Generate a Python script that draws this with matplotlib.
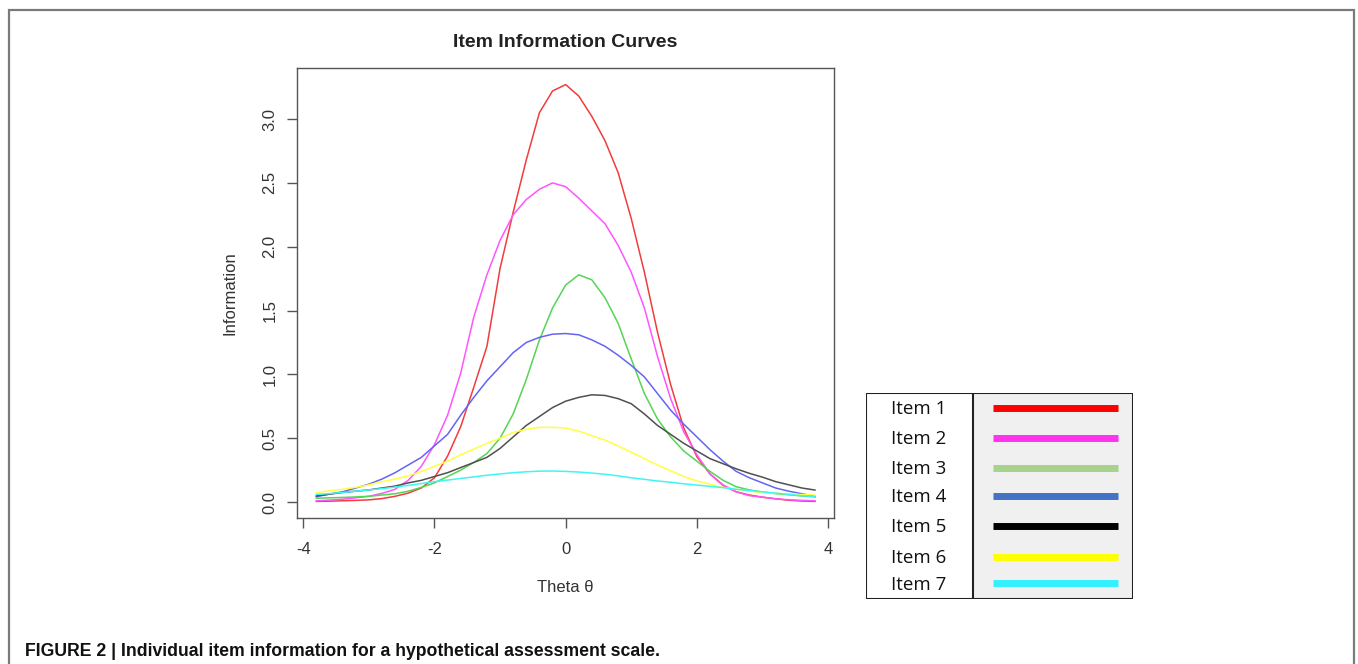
import numpy as np
import matplotlib
matplotlib.use("Agg")
import matplotlib.pyplot as plt
from matplotlib.patches import Rectangle

# ---------------- data ----------------
theta = [round(-3.8 + 0.2 * i, 1) for i in range(39)]

item1 = [0.005, 0.007, 0.010, 0.013, 0.017, 0.027, 0.045, 0.070, 0.110, 0.190,
         0.360, 0.590, 0.900, 1.220, 1.830, 2.270, 2.680, 3.050, 3.220, 3.270,
         3.180, 3.020, 2.830, 2.580, 2.220, 1.800, 1.330, 0.920, 0.580, 0.355,
         0.220, 0.130, 0.080, 0.055, 0.038, 0.025, 0.014, 0.008, 0.005]
item2 = [0.010, 0.015, 0.022, 0.033, 0.045, 0.068, 0.100, 0.170, 0.280, 0.450,
         0.680, 1.010, 1.450, 1.780, 2.050, 2.250, 2.370, 2.450, 2.500, 2.470,
         2.380, 2.280, 2.180, 2.010, 1.800, 1.520, 1.140, 0.810, 0.550, 0.370,
         0.220, 0.134, 0.080, 0.050, 0.038, 0.026, 0.018, 0.013, 0.010]
item3 = [0.030, 0.033, 0.036, 0.040, 0.045, 0.055, 0.065, 0.085, 0.115, 0.150,
         0.200, 0.250, 0.310, 0.380, 0.500, 0.690, 0.960, 1.270, 1.520, 1.700,
         1.780, 1.740, 1.600, 1.400, 1.120, 0.850, 0.650, 0.510, 0.400, 0.320,
         0.240, 0.170, 0.120, 0.095, 0.078, 0.066, 0.057, 0.048, 0.040]
item4 = [0.042, 0.062, 0.080, 0.110, 0.140, 0.180, 0.230, 0.290, 0.350, 0.440,
         0.530, 0.680, 0.820, 0.950, 1.060, 1.170, 1.250, 1.290, 1.315, 1.320,
         1.310, 1.270, 1.220, 1.150, 1.070, 0.980, 0.850, 0.720, 0.610, 0.510,
         0.410, 0.320, 0.240, 0.190, 0.150, 0.110, 0.085, 0.065, 0.045]
item5 = [0.048, 0.062, 0.075, 0.085, 0.095, 0.110, 0.125, 0.150, 0.170, 0.200,
         0.230, 0.270, 0.310, 0.350, 0.420, 0.510, 0.600, 0.670, 0.740, 0.790,
         0.820, 0.840, 0.835, 0.810, 0.770, 0.690, 0.600, 0.530, 0.460, 0.400,
         0.340, 0.300, 0.260, 0.225, 0.195, 0.160, 0.135, 0.110, 0.094]
item6 = [0.073, 0.088, 0.100, 0.115, 0.135, 0.160, 0.180, 0.205, 0.240, 0.280,
         0.320, 0.370, 0.415, 0.460, 0.500, 0.545, 0.570, 0.585, 0.585, 0.580,
         0.555, 0.520, 0.485, 0.440, 0.390, 0.340, 0.290, 0.245, 0.200, 0.165,
         0.140, 0.115, 0.100, 0.085, 0.075, 0.069, 0.064, 0.059, 0.055]
item7 = [0.060, 0.066, 0.075, 0.085, 0.095, 0.105, 0.117, 0.130, 0.145, 0.160,
         0.172, 0.185, 0.197, 0.210, 0.220, 0.230, 0.237, 0.242, 0.243, 0.240,
         0.235, 0.227, 0.218, 0.205, 0.190, 0.178, 0.165, 0.155, 0.143, 0.133,
         0.123, 0.113, 0.100, 0.090, 0.080, 0.070, 0.060, 0.050, 0.042]

item_labels = ["Item 1", "Item 2", "Item 3", "Item 4", "Item 5", "Item 6", "Item 7"]
x_ticks = [-4, -2, 0, 2, 4]
y_ticks = [0.0, 0.5, 1.0, 1.5, 2.0, 2.5, 3.0]

title = "Item Information Curves"
x_label = "Theta \u03b8"
y_label = "Information"
caption = "FIGURE 2 | Individual item information for a hypothetical assessment scale."

# ---------------- styles ----------------
curve_colors = ["#F23C3C", "#FF55FF", "#55D455", "#6464F5", "#505050", "#FFFF40", "#40F5F5"]
legend_colors = ["#FF0000", "#FF33EE", "#A9D18E", "#4472C4", "#000000", "#FFFF00", "#33F0FF"]
series = [item1, item2, item3, item4, item5, item6, item7]

W, H = 1358, 664
fig = plt.figure(figsize=(W / 100, H / 100), dpi=100)
plt.rcParams['font.family'] = ['Liberation Sans', 'DejaVu Sans']

# outer frame (top, left, right)
frame = fig.add_axes([0, 0, 1, 1], zorder=-5)
frame.set_xlim(0, W)
frame.set_ylim(H, 0)
frame.axis("off")
frame.plot([9, 9, 1354, 1354], [H + 5, 10, 10, H + 5], color="#7a7a7a", lw=1.6,
           solid_joinstyle="miter")

# main axes
ax_l, ax_r, ax_t, ax_b = 297, 834, 68, 518
ax = fig.add_axes([ax_l / W, 1 - ax_b / H, (ax_r - ax_l) / W, (ax_b - ax_t) / H])
for ys, c in zip(series, curve_colors):
    ax.plot(theta, ys, color=c, lw=1.1)
ax.set_xlim(-4.095, 4.09)
ax.set_ylim(-0.125, 3.40)
ax.set_xticks(x_ticks)
ax.set_xticklabels([str(t) for t in x_ticks])
ax.set_yticks(y_ticks)
ax.set_yticklabels([f"{t:.1f}" for t in y_ticks], rotation=90, va="center")
for sp in ax.spines.values():
    sp.set_color("#555555")
    sp.set_linewidth(1.0)
ax.tick_params(axis="both", direction="out", length=7, width=1.0, color="#555555",
               labelsize=12, labelcolor="#333333")
ax.tick_params(axis="x", pad=10.5)
ax.tick_params(axis="y", pad=7)
ax.set_title(title, fontsize=14, fontweight="bold", color="#222222", pad=15)
ax.set_xlabel(x_label, fontsize=12, color="#333333")
ax.set_ylabel(y_label, fontsize=12, color="#333333")
ax.xaxis.set_label_coords(0.5, -(587 - ax_b) / (ax_b - ax_t))
ax.xaxis.label.set_va("center")
ax.yaxis.set_label_coords(-(ax_l - 230) / (ax_r - ax_l), 0.5)
ax.yaxis.label.set_va("center")

# legend table
lg_l, lg_r, lg_t, lg_b = 866, 1133, 393, 599
lg = fig.add_axes([lg_l / W, 1 - lg_b / H, (lg_r - lg_l) / W, (lg_b - lg_t) / H])
lg.set_xlim(0, lg_r - lg_l)
lg.set_ylim(lg_b - lg_t, 0)
lg.axis("off")
div = 973 - lg_l
lg.add_patch(Rectangle((div, 0), (lg_r - lg_l) - div, lg_b - lg_t, facecolor="#F0F0F0",
                       edgecolor="none"))
lg.add_patch(Rectangle((0, 0), lg_r - lg_l, lg_b - lg_t, facecolor="none",
                       edgecolor="#222222", lw=1.5))
lg.plot([div, div], [0, lg_b - lg_t], color="#222222", lw=1.5)
row_y = [407.5, 438, 468, 496, 525.5, 556.5, 583]
for lab, c, y in zip(item_labels, legend_colors, row_y):
    yy = y - lg_t
    lg.plot([993 - lg_l, 1118 - lg_l], [yy, yy], color=c, lw=5, solid_capstyle="butt")
    lg.text(919 - lg_l, yy + 1.5, lab, ha="center", va="center", fontsize=13.5,
            family=["Open Sans", "DejaVu Sans"], color="#111111")

# caption
fig.text(25 / W, 1 - 652 / H, caption, ha="left", va="center", fontsize=12.7,
         fontweight="bold", family=["Liberation Sans", "DejaVu Sans"],
         color="#111111")

fig.savefig("out.png", dpi=100)
